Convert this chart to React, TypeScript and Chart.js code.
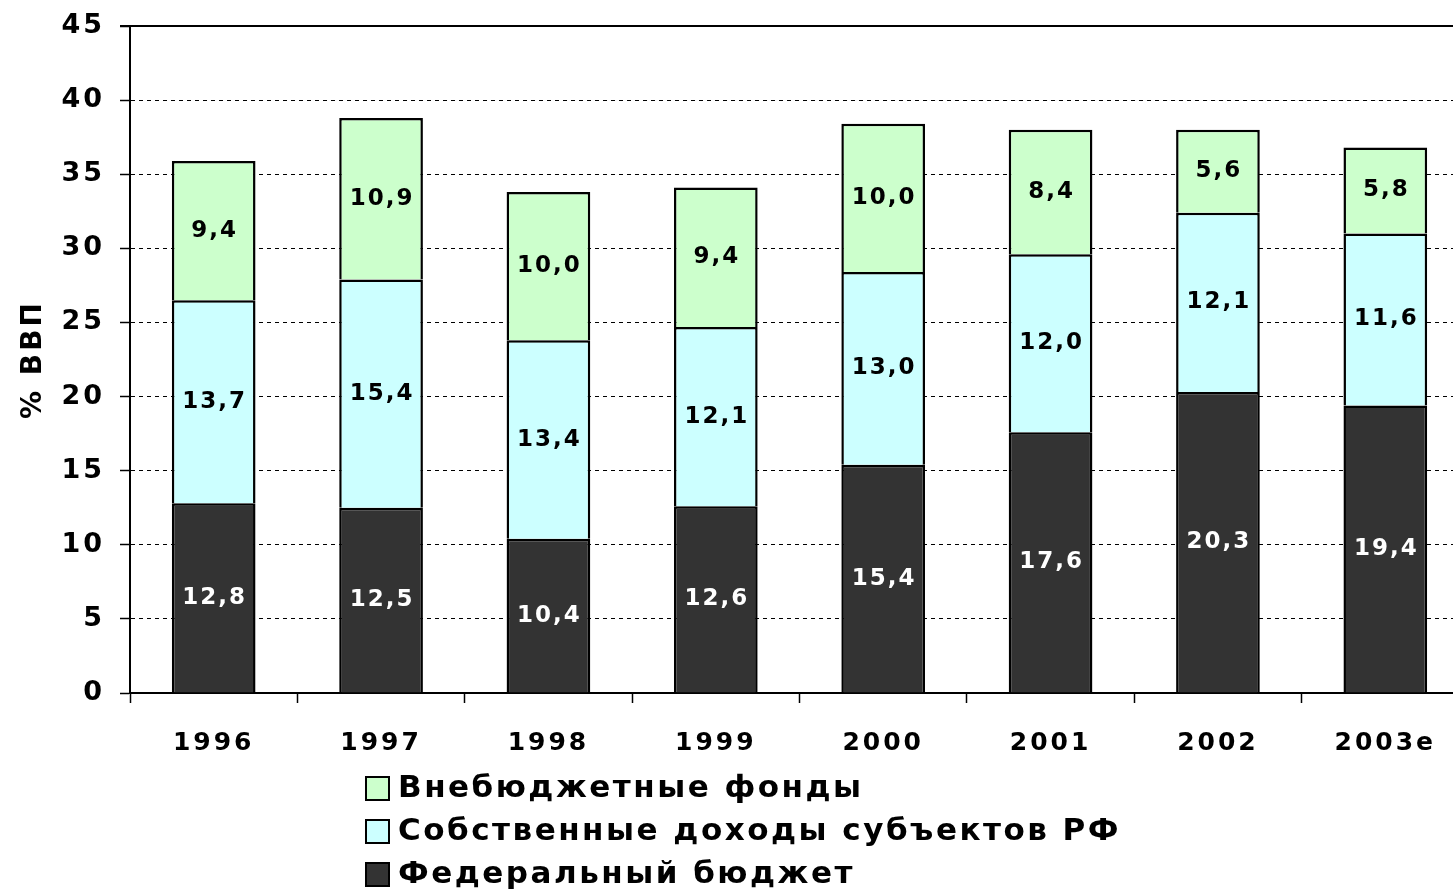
import React, { useEffect, useRef } from 'react';
import { Chart, registerables } from 'chart.js';

Chart.register(...registerables);

const years = ['1996', '1997', '1998', '1999', '2000', '2001', '2002', '2003e'];
const federalBudget = [12.8, 12.5, 10.4, 12.6, 15.4, 17.6, 20.3, 19.4];
const regionalOwnRevenue = [13.7, 15.4, 13.4, 12.1, 13.0, 12.0, 12.1, 11.6];
const offBudgetFunds = [9.4, 10.9, 10.0, 9.4, 10.0, 8.4, 5.6, 5.8];
const seriesNames = ['Федеральный бюджет', 'Собственные доходы субъектов РФ', 'Внебюджетные фонды'];
const seriesColors = ['#333333', '#CCFFFF', '#CCFFCC'];
const yAxisTitle = '% ВВП';
const yMax = 45;
const yStep = 5;

const fmt = (v: number) => v.toFixed(1).replace('.', ',');

const decor = {
  id: 'decor',
  beforeDraw(chart: any) {
    chart.ctx.letterSpacing = '3px';
  },
  afterDatasetsDraw(chart: any) {
    const ctx = chart.ctx;
    ctx.save();
    ctx.font = 'bold 23px "DejaVu Sans"';
    ctx.letterSpacing = '2px';
    ctx.textAlign = 'center';
    ctx.textBaseline = 'middle';
    chart.data.datasets.forEach((ds: any, i: number) => {
      const meta = chart.getDatasetMeta(i);
      meta.data.forEach((bar: any, j: number) => {
        const p = bar.getProps(['x', 'y', 'base'], true);
        ctx.fillStyle = i === 0 ? '#ffffff' : '#000000';
        ctx.fillText(fmt(ds.data[j]), p.x + 1, (p.y + p.base) / 2);
      });
    });
    const { left, right, top } = chart.chartArea;
    ctx.strokeStyle = '#000';
    ctx.lineWidth = 2;
    ctx.beginPath();
    ctx.moveTo(left - 10, top);
    ctx.lineTo(right, top);
    ctx.stroke();
    ctx.restore();
  },
  afterDraw(chart: any) {
    const ctx = chart.ctx;
    ctx.save();
    ctx.font = 'bold 31px "DejaVu Sans"';
    ctx.letterSpacing = '2.5px';
    ctx.textAlign = 'left';
    ctx.textBaseline = 'middle';
    const order = [2, 1, 0];
    order.forEach((di, r) => {
      const ds = chart.data.datasets[di];
      const cy = 788 + r * 43;
      ctx.fillStyle = ds.backgroundColor;
      ctx.fillRect(366, cy - 11, 23, 23);
      ctx.strokeStyle = '#000';
      ctx.lineWidth = 2;
      ctx.strokeRect(366, cy - 11, 23, 23);
      ctx.fillStyle = '#000';
      ctx.fillText(ds.label, 398, cy + 1);
    });
    ctx.restore();
  },
};

export default function App() {
  const ref = useRef<HTMLCanvasElement>(null);
  useEffect(() => {
    document.body.style.margin = '0';
    const series = [federalBudget, regionalOwnRevenue, offBudgetFunds];
    const chart = new Chart(ref.current as HTMLCanvasElement, {
      type: 'bar',
      data: {
        labels: years,
        datasets: series.map((d, i) => ({
          label: seriesNames[i],
          data: d,
          backgroundColor: seriesColors[i],
          borderColor: '#000',
          borderWidth: 2.5,
          categoryPercentage: 1,
          barPercentage: 0.5,
        })),
      },
      options: {
        responsive: false,
        animation: false,
        devicePixelRatio: 1,
        layout: { padding: { top: 26, right: 11, bottom: 130, left: 0 } },
        plugins: { legend: { display: false }, tooltip: { enabled: false } },
        scales: {
          x: {
            stacked: true,
            offset: true,
            grid: {
              display: true,
              offset: true,
              drawOnChartArea: false,
              drawTicks: true,
              tickLength: 10,
              tickColor: '#000',
              tickWidth: 1.5,
            },
            border: { display: true, color: '#000', width: 2 },
            ticks: {
              color: '#000',
              padding: 25,
              font: { family: '"DejaVu Sans"', size: 25, weight: 'bold' },
              maxRotation: 0,
            },
            afterFit: (s: any) => { s.height = 70; s.paddingLeft = 0; s.paddingRight = 0; },
          },
          y: {
            stacked: true,
            min: 0,
            max: yMax,
            ticks: {
              stepSize: yStep,
              color: '#000',
              padding: 15,
              font: { family: '"DejaVu Sans"', size: 27, weight: 'bold' },
            },
            grid: {
              color: '#000',
              lineWidth: 1,
              drawTicks: true,
              tickLength: 10,
              tickColor: '#000',
              tickWidth: 1.5,
              tickBorderDash: [],
            },
            border: { display: true, color: '#000', width: 2, dash: [4, 4] },
            title: {
              display: true,
              text: yAxisTitle,
              color: '#000',
              padding: { top: 17, bottom: 0 },
              font: { family: '"DejaVu Sans"', size: 28, weight: 'bold' },
            },
            afterFit: (s: any) => { s.width = 130; s.paddingTop = 0; s.paddingBottom = 0; },
          },
        },
      },
      plugins: [decor],
    } as any);
    return () => chart.destroy();
  }, []);
  return (
    <div style={{ position: 'absolute', left: 0, top: 0, width: 1453, height: 893, overflow: 'hidden', background: '#fff' }}>
      <canvas ref={ref} width={1480} height={893} style={{ display: 'block', width: 1480, height: 893 }} />
    </div>
  );
}
